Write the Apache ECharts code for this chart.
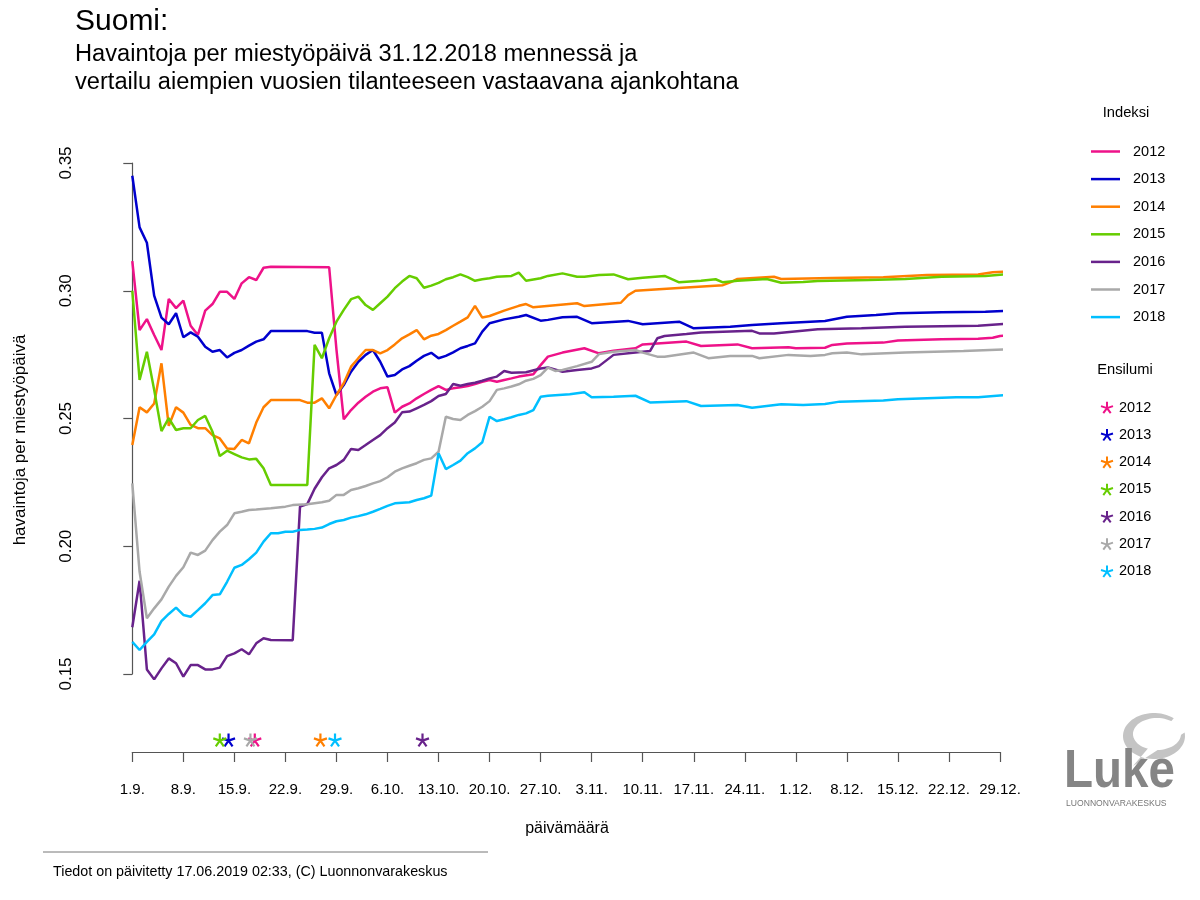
<!DOCTYPE html>
<html><head><meta charset="utf-8">
<script src="https://cdn.jsdelivr.net/npm/echarts@6/dist/echarts.min.js"></script>
<style>html,body{margin:0;padding:0;background:#fff}#c{width:1200px;height:900px}</style>
</head><body><div id="c"></div>
<script>
// ---- data (day index: 0 = 1.9.) ----
const years = ['2012','2013','2014','2015','2016','2017','2018'];
const colors = ['#EE1289','#0000CD','#FF7F00','#66CD00','#68228B','#A9A9A9','#00BFFF'];
const tickLabels = ['1.9.','8.9.','15.9.','22.9.','29.9.','6.10.','13.10.','20.10.','27.10.','3.11.','10.11.','17.11.','24.11.','1.12.','8.12.','15.12.','22.12.','29.12.'];
const yTicks = [0.15,0.20,0.25,0.30,0.35];

const s2012 = [[0,.3116],[1,.2846],[2,.2889],[3,.2827],[4,.2768],[5,.2968],[6,.2932],[7,.2961],[8,.2863],[9,.2827],[10,.2922],[11,.2948],[12,.2996],[13,.2996],[14,.2968],[15,.3029],[16,.3053],[17,.3042],[18,.3090],[19,.3094],[27,.3092],[28,.2770],[29,.2497],[30,.2533],[31,.2562],[32,.2585],[33,.2605],[34,.2618],[35,.2622],[36,.2523],[37,.2546],[38,.2559],[39,.2579],[40,.2596],[41,.2612],[42,.2627],[43,.2612],[44,.2618],[45,.2622],[46,.2627],[47,.2635],[48,.2644],[49,.2651],[50,.2644],[51,.2651],[52,.2657],[53,.2664],[55,.2673],[56,.2709],[57,.2742],[59,.2758],[62,.2775],[64,.2755],[66,.2765],[69,.2775],[70,.2790],[76,.2801],[78,.2784],[83,.2790],[85,.2775],[90,.2779],[91,.2775],[95,.2777],[96,.2788],[98,.2794],[103,.2797],[105,.2805],[111,.2810],[116,.2812],[118,.2816],[119,.2823],[121,.2826]];
const s2013 = [[0,.3450],[1,.3248],[2,.3188],[3,.2981],[4,.2895],[5,.2869],[6,.2912],[7,.2818],[8,.2837],[9,.2820],[10,.2781],[11,.2761],[12,.2768],[13,.2739],[14,.2757],[15,.2768],[16,.2785],[17,.2801],[18,.2810],[19,.2842],[24,.2842],[25,.2836],[26,.2836],[27,.2677],[28,.2592],[29,.2631],[30,.2683],[31,.2722],[32,.2749],[33,.2768],[34,.2722],[35,.2664],[36,.2670],[37,.2692],[38,.2705],[39,.2726],[40,.2745],[41,.2757],[42,.2736],[43,.2745],[44,.2759],[45,.2775],[46,.2784],[47,.2794],[48,.2840],[49,.2873],[51,.2888],[53,.2898],[54,.2905],[56,.2883],[57,.2886],[59,.2896],[61,.2898],[63,.2873],[68,.2882],[70,.2869],[75,.2879],[77,.2853],[82,.2859],[85,.2866],[89,.2873],[95,.2882],[98,.2898],[102,.2905],[105,.2912],[111,.2916],[117,.2918],[121,.2922]];
const s2014 = [[0,.2396],[1,.2544],[2,.2524],[3,.2559],[4,.2716],[5,.2471],[6,.2544],[7,.2523],[8,.2475],[9,.2462],[10,.2462],[11,.2435],[12,.2422],[13,.2383],[14,.2381],[15,.2416],[16,.2403],[17,.2484],[18,.2544],[19,.2572],[23,.2572],[24,.2562],[25,.2562],[26,.2579],[27,.2540],[28,.2592],[29,.2638],[30,.2703],[31,.2736],[32,.2768],[33,.2768],[34,.2755],[35,.2768],[36,.2790],[37,.2814],[38,.2829],[39,.2846],[40,.2810],[41,.2824],[42,.2831],[43,.2846],[44,.2863],[45,.2879],[46,.2896],[47,.2941],[48,.2895],[49,.2901],[51,.2922],[53,.2941],[54,.2948],[55,.2935],[61,.2951],[62,.2940],[67,.2953],[68,.2983],[69,.3000],[76,.3013],[81,.3022],[82,.3033],[83,.3046],[88,.3055],[89,.3046],[96,.3050],[103,.3053],[109,.3062],[116,.3064],[118,.3072],[121,.3078]];
const s2015 = [[0,.3000],[1,.2651],[2,.2761],[3,.2612],[4,.2451],[5,.2501],[6,.2455],[7,.2462],[8,.2462],[9,.2494],[10,.2510],[11,.2448],[12,.2353],[13,.2374],[14,.2361],[15,.2348],[16,.2340],[17,.2342],[18,.2305],[19,.2240],[24,.2240],[25,.2788],[26,.2736],[27,.2814],[28,.2879],[29,.2925],[30,.2967],[31,.2977],[32,.2944],[33,.2925],[34,.2951],[35,.2977],[36,.3010],[37,.3036],[38,.3058],[39,.3049],[40,.3012],[41,.3020],[42,.3031],[43,.3045],[44,.3053],[45,.3064],[46,.3053],[47,.3039],[48,.3045],[49,.3049],[50,.3055],[52,.3058],[53,.3071],[54,.3039],[56,.3049],[57,.3058],[59,.3068],[61,.3055],[62,.3055],[64,.3062],[66,.3064],[68,.3045],[70,.3051],[73,.3058],[75,.3033],[78,.3039],[80,.3045],[81,.3033],[83,.3039],[87,.3046],[89,.3031],[92,.3034],[94,.3038],[101,.3042],[106,.3046],[111,.3055],[117,.3058],[121,.3068]];
const s2016 = [[0,.1683],[1,.1865],[2,.1518],[3,.1479],[4,.1522],[5,.1561],[6,.1542],[7,.1490],[8,.1535],[9,.1535],[10,.1518],[11,.1518],[12,.1525],[13,.1570],[14,.1581],[15,.1597],[16,.1577],[17,.1620],[18,.1640],[19,.1633],[22,.1632],[23,.2155],[24,.2165],[25,.2225],[26,.2270],[27,.2305],[28,.2318],[29,.2338],[30,.2381],[31,.2377],[32,.2396],[33,.2416],[34,.2435],[35,.2462],[36,.2484],[37,.2524],[38,.2527],[39,.2540],[40,.2553],[41,.2568],[42,.2588],[43,.2596],[44,.2635],[45,.2628],[46,.2635],[47,.2640],[48,.2648],[49,.2657],[50,.2664],[51,.2686],[52,.2679],[54,.2681],[56,.2696],[57,.2700],[59,.2683],[61,.2690],[63,.2696],[64,.2705],[66,.2749],[69,.2758],[71,.2764],[72,.2814],[73,.2823],[76,.2831],[78,.2837],[85,.2843],[86,.2833],[88,.2833],[94,.2849],[100,.2853],[106,.2859],[116,.2863],[121,.2873]];
const s2017 = [[0,.2246],[1,.1900],[2,.1718],[3,.1757],[4,.1792],[5,.1842],[6,.1884],[7,.1918],[8,.1975],[9,.1966],[10,.1983],[11,.2024],[12,.2057],[13,.2083],[14,.2129],[15,.2135],[16,.2142],[17,.2144],[19,.2149],[21,.2155],[22,.2161],[24,.2164],[25,.2168],[26,.2172],[27,.2178],[28,.2201],[29,.2201],[30,.2220],[31,.2227],[32,.2236],[33,.2246],[34,.2255],[35,.2270],[36,.2292],[37,.2305],[38,.2315],[39,.2325],[40,.2338],[41,.2344],[42,.2370],[43,.2507],[44,.2498],[45,.2494],[46,.2514],[47,.2529],[48,.2546],[49,.2568],[50,.2612],[51,.2618],[52,.2625],[53,.2634],[54,.2648],[55,.2655],[56,.2670],[57,.2699],[58,.2686],[59,.2690],[61,.2705],[63,.2722],[64,.2752],[66,.2761],[69,.2768],[70,.2758],[72,.2742],[73,.2742],[77,.2758],[79,.2736],[82,.2745],[85,.2745],[86,.2736],[90,.2749],[93,.2745],[95,.2749],[96,.2755],[98,.2758],[100,.2751],[106,.2758],[114,.2764],[121,.2772]];
const s2018 = [[0,.1626],[1,.1594],[2,.1626],[3,.1655],[4,.1707],[5,.1735],[6,.1760],[7,.1731],[8,.1724],[9,.1750],[10,.1777],[11,.1809],[12,.1812],[13,.1861],[14,.1916],[15,.1927],[16,.1949],[17,.1975],[18,.2018],[19,.2051],[20,.2051],[21,.2057],[22,.2057],[23,.2064],[24,.2066],[25,.2068],[26,.2073],[27,.2087],[28,.2098],[29,.2103],[30,.2112],[31,.2118],[32,.2125],[33,.2135],[34,.2146],[35,.2158],[36,.2168],[37,.2170],[38,.2172],[39,.2181],[40,.2188],[41,.2198],[42,.2364],[43,.2302],[44,.2318],[45,.2335],[46,.2364],[47,.2383],[48,.2407],[49,.2507],[50,.2490],[51,.2497],[52,.2505],[53,.2514],[54,.2520],[55,.2533],[56,.2585],[57,.2589],[60,.2595],[62,.2603],[63,.2583],[66,.2585],[69,.2589],[71,.2563],[76,.2568],[78,.2549],[83,.2553],[85,.2542],[89,.2556],[92,.2553],[95,.2557],[97,.2566],[103,.2570],[105,.2575],[113,.2583],[116,.2583],[121,.2595]];
// first snow (ensilumi) day index per year 2012..2018
const snowDays = [16.8, 13.2, 25.8, 12.0, 39.8, 16.2, 27.8];

// ---- layout / style ----
const SERIES = [s2012,s2013,s2014,s2015,s2016,s2017,s2018];
const STAR_ROW = 0.1242; // vertical position of the first-snow marker row (axis units)
const FONT = 'Liberation Sans, Arial, sans-serif';
const STAR = 'path://M0,0L0,-10M0,0L9.51,-3.09M0,0L5.88,8.09M0,0L-5.88,8.09M0,0L-9.51,-3.09';
const LINE_ICON = 'path://M0,0L30,0L30,2.6L0,2.6Z';

const series = [];
years.forEach((y,i)=>{
  series.push({name:y,type:'line',data:SERIES[i],symbol:'none',clip:false,
    lineStyle:{color:colors[i],width:2.5},itemStyle:{color:colors[i]},animation:false});
});
years.forEach((y,i)=>{
  series.push({name:'E'+y,type:'scatter',data:[[snowDays[i],STAR_ROW]],symbol:STAR,symbolSize:13,clip:false,
    itemStyle:{color:colors[i],borderColor:colors[i],borderWidth:2.2,opacity:1},animation:false});
});

// leaf outline for the logo (decorative)
function ellipsePts(cx,cy,rx,ry,a0,a1,n){const p=[];for(let k=0;k<=n;k++){const a=a0+(a1-a0)*k/n;p.push([cx+rx*Math.cos(a),cy+ry*Math.sin(a)]);}return p;}
const leafOuter = ellipsePts(1154,736,31,23,-Math.PI*0.05,Math.PI*1.72,60).concat([[1133,766]]);
const leafInner = ellipsePts(1157,734,24,16,0,Math.PI*2,60);

const chart = echarts.init(document.getElementById('c'),null,{renderer:'canvas'});
chart.setOption({
  backgroundColor:'#fff',
  animation:false,
  grid:{left:132.3,right:200,top:163,bottom:226},
  xAxis:{type:'value',min:0,max:119,interval:7,offset:78,
    axisLine:{lineStyle:{color:'#555',width:1.2}},
    axisTick:{length:10,lineStyle:{color:'#555',width:1.2}},
    splitLine:{show:false},
    axisLabel:{formatter:v=>tickLabels[Math.round(v/7)],margin:30,fontSize:15,color:'#000',fontFamily:FONT}},
  yAxis:{type:'value',min:0.15,max:0.35,interval:0.05,offset:10,
    axisLine:{lineStyle:{color:'#555',width:1.2}},
    axisTick:{length:9,lineStyle:{color:'#555',width:1.2}},
    splitLine:{show:false},
    axisLabel:{rotate:90,formatter:v=>v.toFixed(2),margin:47,fontSize:17,color:'#000',fontFamily:FONT}},
  legend:[
    {data:years,icon:LINE_ICON,orient:'vertical',left:1091,top:144,itemWidth:29,itemHeight:14,itemGap:12.6,padding:0,
     textStyle:{fontSize:14.5,color:'#000',fontFamily:FONT,padding:[0,0,0,8]}},
    {data:years.map(y=>'E'+y),formatter:n=>n.slice(1),orient:'vertical',left:1100,top:400,itemWidth:12,itemHeight:14,itemGap:12.3,padding:0,
     textStyle:{fontSize:14.5,color:'#000',fontFamily:FONT,padding:[0,0,0,1]}}
  ],
  graphic:[
    {type:'text',left:75,top:7,style:{text:'Suomi:',font:'30px '+FONT,fill:'#000'}},
    {type:'text',left:75,top:42,style:{text:'Havaintoja per miestyöpäivä 31.12.2018 mennessä ja',font:'23.65px '+FONT,fill:'#000'}},
    {type:'text',left:75,top:70,style:{text:'vertailu aiempien vuosien tilanteeseen vastaavana ajankohtana',font:'23.65px '+FONT,fill:'#000'}},
    {type:'text',x:1126,y:113,style:{text:'Indeksi',font:'14.7px '+FONT,fill:'#000',align:'center',verticalAlign:'middle'}},
    {type:'text',x:1125,y:370,style:{text:'Ensilumi',font:'14.7px '+FONT,fill:'#000',align:'center',verticalAlign:'middle'}},
    {type:'text',x:567,y:829,style:{text:'päivämäärä',font:'16px '+FONT,fill:'#000',align:'center',verticalAlign:'middle'}},
    {type:'text',x:20,y:440,rotation:Math.PI/2,style:{text:'havaintoja per miestyöpäivä',font:'17px '+FONT,fill:'#000',align:'center',verticalAlign:'middle'}},
    {type:'line',shape:{x1:43,y1:852,x2:488,y2:852},style:{stroke:'#777',lineWidth:1}},
    {type:'text',left:53,top:865,style:{text:'Tiedot on päivitetty 17.06.2019 02:33, (C) Luonnonvarakeskus',font:'14.3px '+FONT,fill:'#000'}},
    {type:'polygon',shape:{points:leafOuter},style:{fill:'#c4c4c4'}},
    {type:'polygon',shape:{points:leafInner},style:{fill:'#fff'}},
    {type:'text',left:1064,top:745,scaleX:0.88,style:{text:'Luke',font:'bold 54px '+FONT,fill:'#858585'}},
    {type:'text',left:1066,top:799,style:{text:'LUONNONVARAKESKUS',font:'8.6px '+FONT,fill:'#777'}}
  ],
  series:series
});
</script></body></html>
